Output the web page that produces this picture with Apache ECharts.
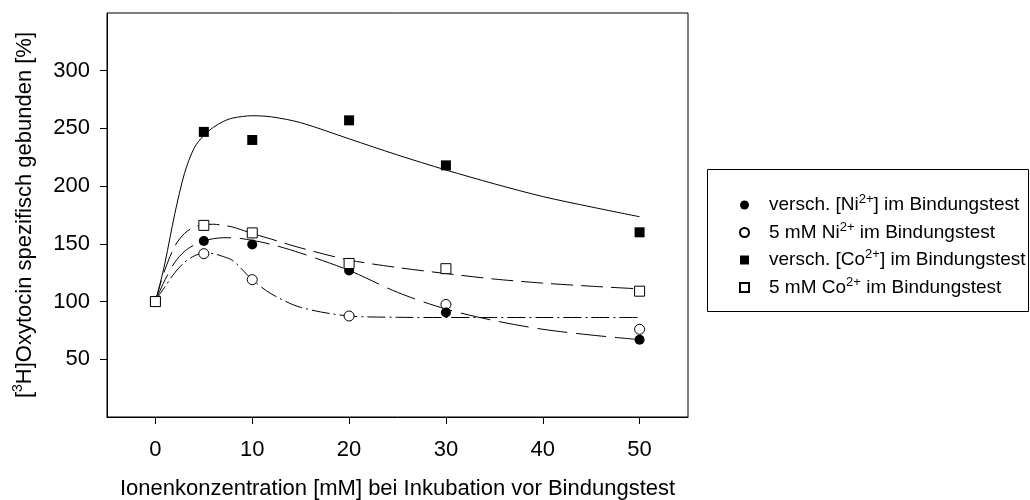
<!DOCTYPE html>
<html><head><meta charset="utf-8">
<script src="https://cdn.jsdelivr.net/npm/echarts@6/dist/echarts.min.js"></script>
<style>html,body{margin:0;padding:0;background:#fff}#c{width:1030px;height:500px}</style>
</head><body><div id="c"></div>
<script>
// measured points
const concX = [0, 5, 10, 20, 30, 50];
const niVar = [100, 152.5, 149.5, 127, 90.5, 67];
const ni5   = [100, 141.5, 119, 87.5, 97.5, 76];
const coVar = [100, 247, 240, 257, 218, 160];
const co5   = [100, 166, 159.5, 133, 128.5, 109];

// fitted curves
const curveX   = [0, 0.5, 1, 2, 3, 4, 5, 6, 7, 8, 10, 12, 15, 20, 25, 30, 35, 40, 45, 50];
const coVarFit = [100, 116, 134, 176, 211, 233, 244, 251, 256, 259, 261, 260, 255, 241, 227, 214, 202, 191, 182, 173.5];
const co5Fit   = [100, 115, 128, 148, 159, 164.5, 166.5, 167, 166, 164.5, 159, 154, 146.5, 136, 129.5, 124.3, 119.5, 116, 113.3, 111];
const niVarFit = [100, 110, 119, 134, 143.5, 149, 152.5, 154.5, 155.3, 155.3, 153, 149.5, 142, 127, 108, 93.5, 83.5, 76, 71, 67];
const ni5Fit   = [100, 107, 113, 125, 134, 139.5, 142, 141.5, 139, 135.5, 119, 106.5, 95, 87.5, 86.4, 86.2, 86.2, 86.2, 86.2, 86.2];

const xTicks = [0, 10, 20, 30, 40, 50];
const yTicks = [50, 100, 150, 200, 250, 300];
const seriesNames = ['versch. [Ni2+] im Bindungstest', '5 mM Ni2+ im Bindungstest',
                     'versch. [Co2+] im Bindungstest', '5 mM Co2+ im Bindungstest'];
const xTitle = 'Ionenkonzentration [mM] bei Inkubation vor Bindungstest';
const yTitle = '[{sup|3}H]Oxytocin spezifisch gebunden [%]';

const FONT = 'Liberation Sans, Arial, sans-serif';
const pairs = (xs, ys) => xs.map((x, i) => [x, ys[i]]);

function fitLine(ys, dash) {
  return {
    type: 'line', data: pairs(curveX, ys), showSymbol: false, smooth: 0.3,
    silent: true, z: 1,
    lineStyle: { color: '#000', width: 1, type: dash }
  };
}
function pts(name, ys, symbol, filled, z) {
  return {
    type: 'scatter', name: name, data: pairs(concX, ys), symbol: symbol, symbolSize: 10, z: z,
    itemStyle: filled ? { color: '#000', opacity: 1 }
                      : { color: '#fff', borderColor: '#000', borderWidth: 1, opacity: 1 }
  };
}

const chart = echarts.init(document.getElementById('c'), null, { renderer: 'canvas' });
chart.setOption({
  animation: false,
  backgroundColor: '#fff',
  textStyle: { fontFamily: FONT, color: '#000' },
  grid: { left: 107, right: 342, top: 13, bottom: 83, show: true, borderColor: '#000', borderWidth: 1,
          containLabel: false, outerBoundsMode: 'none' },
  xAxis: {
    type: 'value', min: -5, max: 55,
    axisLine: { onZero: false, lineStyle: { color: '#000', width: 1 } },
    axisTick: { customValues: xTicks, length: 7, lineStyle: { color: '#000' } },
    axisLabel: { customValues: xTicks, fontSize: 22, margin: 22, color: '#000', fontFamily: FONT },
    splitLine: { show: false },
    name: xTitle, nameLocation: 'middle', nameGap: 61,
    nameTextStyle: { fontSize: 22, color: '#000', fontFamily: FONT }
  },
  yAxis: {
    type: 'value', min: 0, max: 350,
    axisLine: { onZero: false, lineStyle: { color: '#000', width: 1 } },
    axisTick: { customValues: yTicks, length: 7, lineStyle: { color: '#000' } },
    axisLabel: { customValues: yTicks, fontSize: 22, margin: 17, color: '#000', fontFamily: FONT },
    splitLine: { show: false },
    name: yTitle, nameLocation: 'middle', nameGap: 68, nameRotate: 90,
    nameTextStyle: { fontSize: 22, color: '#000', fontFamily: FONT,
      rich: { sup: { fontSize: 14, padding: [0, 0, 14, 0], fontFamily: FONT, color: '#000' } } }
  },
  legend: {
    orient: 'vertical', left: 734, top: 188, itemWidth: 9, itemHeight: 9, itemGap: 6,
    data: seriesNames,
    formatter: n => n.replace('2+', '{sup|2+}'),
    textStyle: { fontSize: 19, color: '#000', fontFamily: FONT, padding: [0, 0, 0, 15],
      rich: { sup: { fontSize: 13, padding: [0, 0, 11, 0], fontFamily: FONT, color: '#000' } } }
  },
  graphic: [{
    type: 'rect', shape: { x: 707.5, y: 169.5, width: 321, height: 142 },
    style: { fill: 'none', stroke: '#000', lineWidth: 1 }, silent: true
  }],
  series: [
    fitLine(coVarFit, 'solid'),
    fitLine(co5Fit, [22, 8]),
    fitLine(niVarFit, [30, 9]),
    fitLine(ni5Fit, [18, 4, 2, 4]),
    pts(seriesNames[1], ni5, 'circle', false, 3),
    pts(seriesNames[0], niVar, 'circle', true, 4),
    pts(seriesNames[2], coVar, 'rect', true, 5),
    pts(seriesNames[3], co5, 'rect', false, 6)
  ]
});
</script></body></html>
